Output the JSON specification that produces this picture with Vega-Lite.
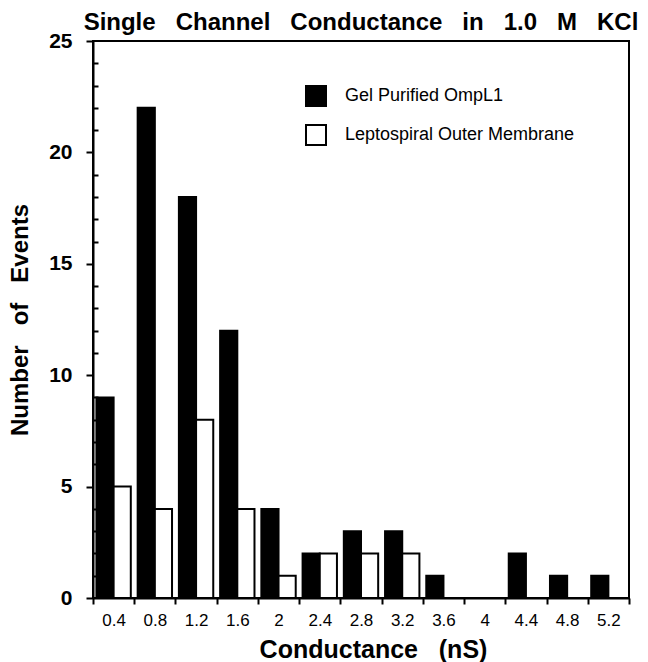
{
  "$schema": "https://vega.github.io/schema/vega-lite/v6.json",
  "width": 536,
  "height": 557,
  "autosize": "none",
  "padding": {"left": 93, "top": 41, "right": 19, "bottom": 64},
  "background": "white",
  "config": {
    "font": "Liberation Sans",
    "view": {"stroke": "black", "strokeWidth": 2}
  },
  "title": {
    "text": "Single \u00a0\u00a0Channel \u00a0\u00a0Conductance \u00a0\u00a0in \u00a0\u00a01.0 \u00a0\u00a0M \u00a0\u00a0KCl",
    "fontSize": 24,
    "fontWeight": "bold",
    "color": "black",
    "offset": -5
  },
  "data": {
    "values": [
      {"g": "0.4", "series": "Gel Purified OmpL1", "n": 9},
      {"g": "0.4", "series": "Leptospiral Outer Membrane", "n": 5},
      {"g": "0.8", "series": "Gel Purified OmpL1", "n": 22},
      {"g": "0.8", "series": "Leptospiral Outer Membrane", "n": 4},
      {"g": "1.2", "series": "Gel Purified OmpL1", "n": 18},
      {"g": "1.2", "series": "Leptospiral Outer Membrane", "n": 8},
      {"g": "1.6", "series": "Gel Purified OmpL1", "n": 12},
      {"g": "1.6", "series": "Leptospiral Outer Membrane", "n": 4},
      {"g": "2", "series": "Gel Purified OmpL1", "n": 4},
      {"g": "2", "series": "Leptospiral Outer Membrane", "n": 1},
      {"g": "2.4", "series": "Gel Purified OmpL1", "n": 2},
      {"g": "2.4", "series": "Leptospiral Outer Membrane", "n": 2},
      {"g": "2.8", "series": "Gel Purified OmpL1", "n": 3},
      {"g": "2.8", "series": "Leptospiral Outer Membrane", "n": 2},
      {"g": "3.2", "series": "Gel Purified OmpL1", "n": 3},
      {"g": "3.2", "series": "Leptospiral Outer Membrane", "n": 2},
      {"g": "3.6", "series": "Gel Purified OmpL1", "n": 1},
      {"g": "3.6", "series": "Leptospiral Outer Membrane", "n": 0},
      {"g": "4", "series": "Gel Purified OmpL1", "n": 0},
      {"g": "4", "series": "Leptospiral Outer Membrane", "n": 0},
      {"g": "4.4", "series": "Gel Purified OmpL1", "n": 2},
      {"g": "4.4", "series": "Leptospiral Outer Membrane", "n": 0},
      {"g": "4.8", "series": "Gel Purified OmpL1", "n": 1},
      {"g": "4.8", "series": "Leptospiral Outer Membrane", "n": 0},
      {"g": "5.2", "series": "Gel Purified OmpL1", "n": 1},
      {"g": "5.2", "series": "Leptospiral Outer Membrane", "n": 0}
    ]
  },
  "mark": {"type": "bar", "stroke": "black", "strokeWidth": 2},
  "encoding": {
    "x": {
      "field": "g",
      "type": "nominal",
      "sort": null,
      "scale": {"paddingInner": 0, "paddingOuter": 0},
      "axis": {
        "title": "Conductance \u00a0\u00a0(nS)",
        "titleFontSize": 25,
        "titleFontWeight": "bold",
        "titleColor": "black",
        "titlePadding": 9,
        "titleX": 280,
        "labelAngle": 0,
        "labelFontSize": 17,
        "labelColor": "black",
        "labelPadding": 8,
        "tickBand": "extent",
        "tickSize": 6,
        "tickWidth": 2,
        "tickColor": "black",
        "domainColor": "black",
        "domainWidth": 2
      }
    },
    "xOffset": {
      "field": "series",
      "sort": ["Gel Purified OmpL1", "Leptospiral Outer Membrane"],
      "scale": {"paddingInner": 0, "paddingOuter": 0.2}
    },
    "y": {
      "field": "n",
      "type": "quantitative",
      "scale": {"domain": [0, 25], "nice": false},
      "axis": {
        "title": "Number \u00a0\u00a0of \u00a0\u00a0Events",
        "titleFontSize": 24,
        "titleFontWeight": "bold",
        "titleColor": "black",
        "titlePadding": 16,
        "values": [0,1,2,3,4,5,6,7,8,9,10,11,12,13,14,15,16,17,18,19,20,21,22,23,24,25],
        "labelExpr": "datum.value % 5 === 0 ? datum.label : ''",
        "labelFontSize": 21,
        "labelFontWeight": "bold",
        "labelColor": "black",
        "labelPadding": 14,
        "tickSize": {"condition": {"test": "datum.value % 5 === 0", "value": 7}, "value": -5},
        "tickWidth": 2,
        "tickColor": "black",
        "domainColor": "black",
        "domainWidth": 2,
        "grid": false
      }
    },
    "fill": {
      "field": "series",
      "type": "nominal",
      "scale": {"domain": ["Gel Purified OmpL1", "Leptospiral Outer Membrane"], "range": ["black", "white"]},
      "legend": {
        "orient": "none",
        "legendX": 212,
        "legendY": 44,
        "title": null,
        "symbolType": "square",
        "symbolSize": 400,
        "symbolStrokeColor": "black",
        "symbolStrokeWidth": 2,
        "labelFontSize": 18,
        "labelColor": "black",
        "labelOffset": 18,
        "labelLimit": 400,
        "rowPadding": 11
      }
    }
  }
}
